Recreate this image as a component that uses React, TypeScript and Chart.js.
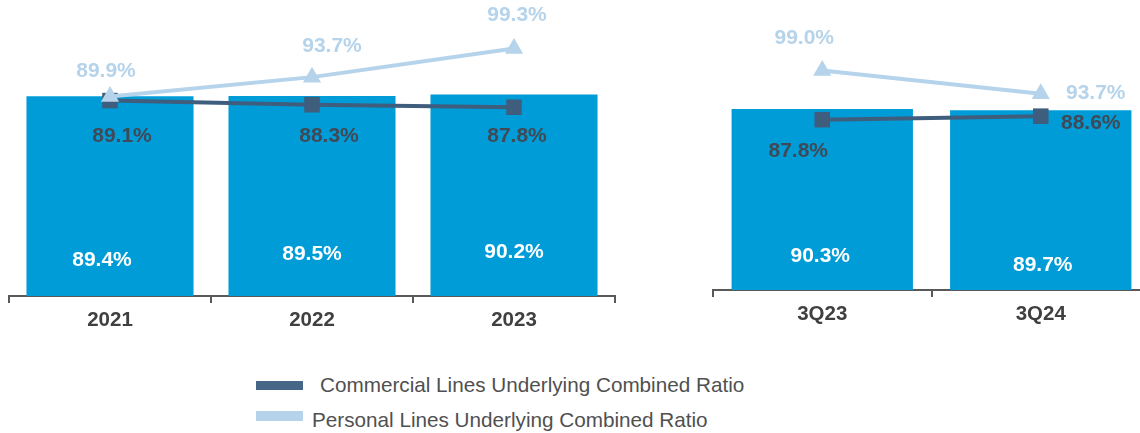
import React, { useEffect, useRef } from 'react';
import { Chart, registerables } from 'chart.js';

Chart.register(...registerables);

// ---- Data ----
const annualCategories = ['2021', '2022', '2023'];
const annualTotal = [89.4, 89.5, 90.2];
const annualCommercial = [89.1, 88.3, 87.8];
const annualPersonal = [89.9, 93.7, 99.3];

const quarterCategories = ['3Q23', '3Q24'];
const quarterTotal = [90.3, 89.7];
const quarterCommercial = [87.8, 88.6];
const quarterPersonal = [99.0, 93.7];

const legendLabels = [
  'Commercial Lines Underlying Combined Ratio',
  'Personal Lines Underlying Combined Ratio',
];

// ---- Styles ----
const FONT = "'Liberation Sans', Arial, sans-serif";
const BAR = '#009cd7';
const COMM = '#3f5d7d';
const PERS = '#b5d3ea';
const AXIS = '#595959';
const COMM_TEXT = '#404956';

type Off = [number, number];

type PanelProps = {
  left: number;
  top: number;
  viewW: number;
  canvasW: number;
  canvasH: number;
  padL: number;
  padR: number;
  yMax: number;
  y2Min: number;
  y2Max: number;
  barFrac: number;
  categories: string[];
  total: number[];
  commercial: number[];
  personal: number[];
  totalOff: Off[];
  commOff: Off[];
  persOff: Off[];
};

const fmt = (v: number) => v.toFixed(1) + '%';

function Panel(p: PanelProps) {
  const ref = useRef<HTMLCanvasElement>(null);
  useEffect(() => {
    const labelPlugin = {
      id: 'valueLabels',
      afterDatasetsDraw(chart: any) {
        const ctx = chart.ctx;
        ctx.save();
        ctx.font = `bold 21px ${FONT}`;
        ctx.textAlign = 'center';
        ctx.textBaseline = 'middle';
        const base = chart.chartArea.bottom;
        const specs = [
          { idx: 0, color: '#ffffff', off: p.totalOff, fromBase: true },
          { idx: 1, color: COMM_TEXT, off: p.commOff, fromBase: false },
          { idx: 2, color: PERS, off: p.persOff, fromBase: false },
        ];
        specs.forEach((s) => {
          const meta = chart.getDatasetMeta(s.idx);
          const vals = chart.data.datasets[s.idx].data as number[];
          meta.data.forEach((el: any, i: number) => {
            const [dx, dy] = s.off[i];
            const y = s.fromBase ? base + dy : el.y + dy;
            ctx.fillStyle = s.color;
            ctx.fillText(fmt(vals[i]), el.x + dx, y);
          });
        });
        ctx.restore();
      },
    };

    const chart = new Chart(ref.current as HTMLCanvasElement, {
      type: 'bar',
      data: {
        labels: p.categories,
        datasets: [
          {
            type: 'bar',
            data: p.total,
            backgroundColor: BAR,
            yAxisID: 'y',
            order: 3,
            barPercentage: p.barFrac,
            categoryPercentage: 1,
          } as any,
          {
            type: 'line',
            data: p.commercial,
            borderColor: COMM,
            backgroundColor: COMM,
            borderWidth: 4,
            pointStyle: 'rect',
            pointRadius: 11,
            pointBorderWidth: 0,
            pointBackgroundColor: COMM,
            tension: 0,
            yAxisID: 'y2',
            order: 2,
          } as any,
          {
            type: 'line',
            data: p.personal,
            borderColor: PERS,
            backgroundColor: PERS,
            borderWidth: 4,
            pointStyle: 'triangle',
            pointRadius: 10.5,
            pointBorderWidth: 0,
            pointBackgroundColor: PERS,
            tension: 0,
            yAxisID: 'y2',
            order: 1,
          } as any,
        ],
      },
      options: {
        responsive: false,
        animation: false,
        layout: { autoPadding: false, padding: { left: p.padL, right: p.padR, top: 0, bottom: 0 } } as any,
        plugins: { legend: { display: false }, tooltip: { enabled: false }, title: { display: false } },
        scales: {
          x: {
            grid: { offset: true, drawOnChartArea: false, drawTicks: true, tickLength: 7, color: AXIS, lineWidth: 2 },
            border: { display: true, color: AXIS, width: 2 },
            ticks: { color: '#404040', font: { family: FONT, size: 20.5, weight: 'bold' }, padding: 5 },
            afterFit: (s: any) => {
              s.height = 44;
            },
          } as any,
          y: { display: false, min: 0, max: p.yMax },
          y2: { display: false, min: p.y2Min, max: p.y2Max },
        },
      },
      plugins: [labelPlugin],
    });
    return () => chart.destroy();
  }, []);

  return (
    <div
      style={{
        position: 'absolute',
        left: p.left,
        top: p.top,
        width: p.viewW,
        height: p.canvasH,
        overflow: 'hidden',
      }}
    >
      <canvas ref={ref} width={p.canvasW} height={p.canvasH} style={{ display: 'block' }} />
    </div>
  );
}

export default function App() {
  return (
    <div style={{ position: 'absolute', left: 0, top: 0, width: 1140, height: 433, overflow: 'hidden', background: '#fff' }}>
      <Panel
        left={0}
        top={0}
        viewW={640}
        canvasW={630}
        canvasH={340}
        padL={9}
        padR={15}
        yMax={132.5}
        y2Min={50.8}
        y2Max={108.82}
        barFrac={0.827}
        categories={annualCategories}
        total={annualTotal}
        commercial={annualCommercial}
        personal={annualPersonal}
        totalOff={[[-8, -36], [0, -42], [0, -44]]}
        commOff={[[12, 36], [17, 32], [3, 29]]}
        persOff={[[-4, -25], [20, -31], [3, -33]]}
      />
      <Panel
        left={700}
        top={0}
        viewW={440}
        canvasW={460}
        canvasH={334}
        padL={13}
        padR={10}
        yMax={144.7}
        y2Min={49.1}
        y2Max={115.0}
        barFrac={0.83}
        categories={quarterCategories}
        total={quarterTotal}
        commercial={quarterCommercial}
        personal={quarterPersonal}
        totalOff={[[-2, -34], [2, -25]]}
        commOff={[[-24, 32], [50, 7]]}
        persOff={[[-18, -32], [55, -1]]}
      />
      <div style={{ position: 'absolute', left: 256, top: 381, width: 47, height: 9, background: '#456687' }} />
      <div
        style={{
          position: 'absolute',
          left: 320,
          top: 373,
          height: 24,
          lineHeight: '24px',
          fontFamily: FONT,
          fontSize: 20.7,
          color: '#505050',
          whiteSpace: 'nowrap',
        }}
      >
        {legendLabels[0]}
      </div>
      <div style={{ position: 'absolute', left: 256, top: 411, width: 47, height: 10, background: PERS }} />
      <div
        style={{
          position: 'absolute',
          left: 312,
          top: 408,
          height: 24,
          lineHeight: '24px',
          fontFamily: FONT,
          fontSize: 20.7,
          color: '#505050',
          whiteSpace: 'nowrap',
        }}
      >
        {legendLabels[1]}
      </div>
    </div>
  );
}
